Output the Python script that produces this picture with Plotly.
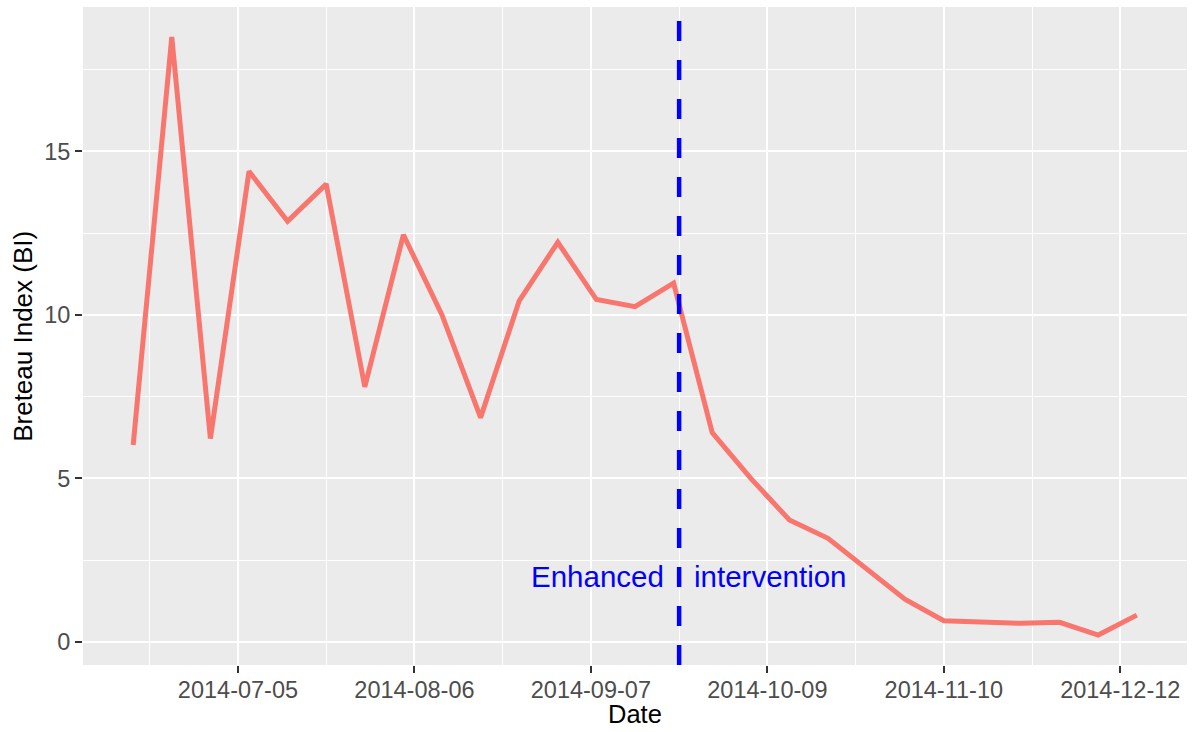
import plotly.graph_objects as go
import pandas as pd

# ---- data ----
dates = ["2014-06-16", "2014-06-23", "2014-06-30", "2014-07-07", "2014-07-14",
         "2014-07-21", "2014-07-28", "2014-08-04", "2014-08-11", "2014-08-18",
         "2014-08-25", "2014-09-01", "2014-09-08", "2014-09-15", "2014-09-22",
         "2014-09-29", "2014-10-06", "2014-10-13", "2014-10-20", "2014-10-27",
         "2014-11-03", "2014-11-10", "2014-11-17", "2014-11-24", "2014-12-01",
         "2014-12-08", "2014-12-15"]
bi_values = [6.02, 18.5, 6.22, 14.39, 12.86,
             14.0, 7.8, 12.45, 10.0, 6.86,
             10.43, 12.22, 10.47, 10.25, 10.97,
             6.4, 5.0, 3.73, 3.17, 2.22,
             1.3, 0.65, 0.6, 0.57, 0.6,
             0.21, 0.82]
intervention_date = "2014-09-23"
annotation_y = 2
x_tick_start = "2014-07-05"
x_tick_days = 32
y_tick_step = 5

# ---- scales (ggplot-like 5% expansion) ----
d = pd.to_datetime(dates)
span = d.max() - d.min()
x_range = [d.min() - 0.05 * span, d.max() + 0.05 * span]
ymin, ymax = min(bi_values), max(bi_values)
ypad = 0.05 * (ymax - ymin)
y_range = [ymin - ypad, ymax + ypad]

day_ms = 86400000
FONT = "Liberation Sans, Arial"

fig = go.Figure()
fig.add_trace(go.Scatter(
    x=dates, y=bi_values, mode="lines",
    line=dict(color="#F8766D", width=5),
    showlegend=False, hoverinfo="x+y",
))

fig.add_shape(type="line", xref="x", yref="paper",
              x0=intervention_date, x1=intervention_date, y0=0, y1=1,
              line=dict(color="#0000FF", width=4.5, dash="20px,19px"))

fig.add_annotation(x=intervention_date, y=annotation_y, xref="x", yref="y",
                   text="Enhanced", showarrow=False, xanchor="right",
                   xshift=-13, font=dict(family=FONT, size=29.5, color="#0000FF"))
fig.add_annotation(x=intervention_date, y=annotation_y, xref="x", yref="y",
                   text="intervention", showarrow=False, xanchor="left",
                   xshift=13, font=dict(family=FONT, size=29.5, color="#0000FF"))

# axis titles
fig.add_annotation(x=0.5, y=-0.074, xref="paper", yref="paper", text="Date",
                   showarrow=False, xanchor="center", yanchor="middle",
                   font=dict(family=FONT, size=25.5, color="#000000"))
fig.add_annotation(x=-0.0545, y=0.5, xref="paper", yref="paper", text="Breteau Index (BI)",
                   showarrow=False, xanchor="center", yanchor="middle", textangle=-90,
                   font=dict(family=FONT, size=26, color="#000000"))

tickfont = dict(family=FONT, size=23.5, color="#4D4D4D")

fig.update_layout(
    width=1198, height=732,
    margin=dict(l=83, r=11, t=7, b=67),
    paper_bgcolor="#FFFFFF", plot_bgcolor="#EBEBEB",
    font=dict(family=FONT),
    xaxis=dict(
        type="date", range=x_range, automargin=False,
        tick0=x_tick_start, dtick=x_tick_days * day_ms, tickformat="%Y-%m-%d",
        showgrid=True, gridcolor="#FFFFFF", gridwidth=2,
        ticks="outside", ticklen=7, tickwidth=2, tickcolor="#333333",
        ticklabelstandoff=-3,
        tickfont=tickfont, zeroline=False, showline=False,
        minor=dict(dtick=x_tick_days // 2 * day_ms, tick0=x_tick_start,
                   showgrid=True, gridcolor="#FFFFFF", gridwidth=1, ticks=""),
    ),
    yaxis=dict(
        range=y_range, tick0=0, dtick=y_tick_step, automargin=False,
        showgrid=True, gridcolor="#FFFFFF", gridwidth=2,
        ticks="outside", ticklen=7, tickwidth=2, tickcolor="#333333",
        tickfont=tickfont, zeroline=False, showline=False,
        minor=dict(dtick=y_tick_step / 2, tick0=0, showgrid=True,
                   gridcolor="#FFFFFF", gridwidth=1, ticks=""),
    ),
)

fig.write_html("out.html", config={"displayModeBar": False},
               post_script="document.body.style.margin='0';document.body.style.overflow='hidden';")
